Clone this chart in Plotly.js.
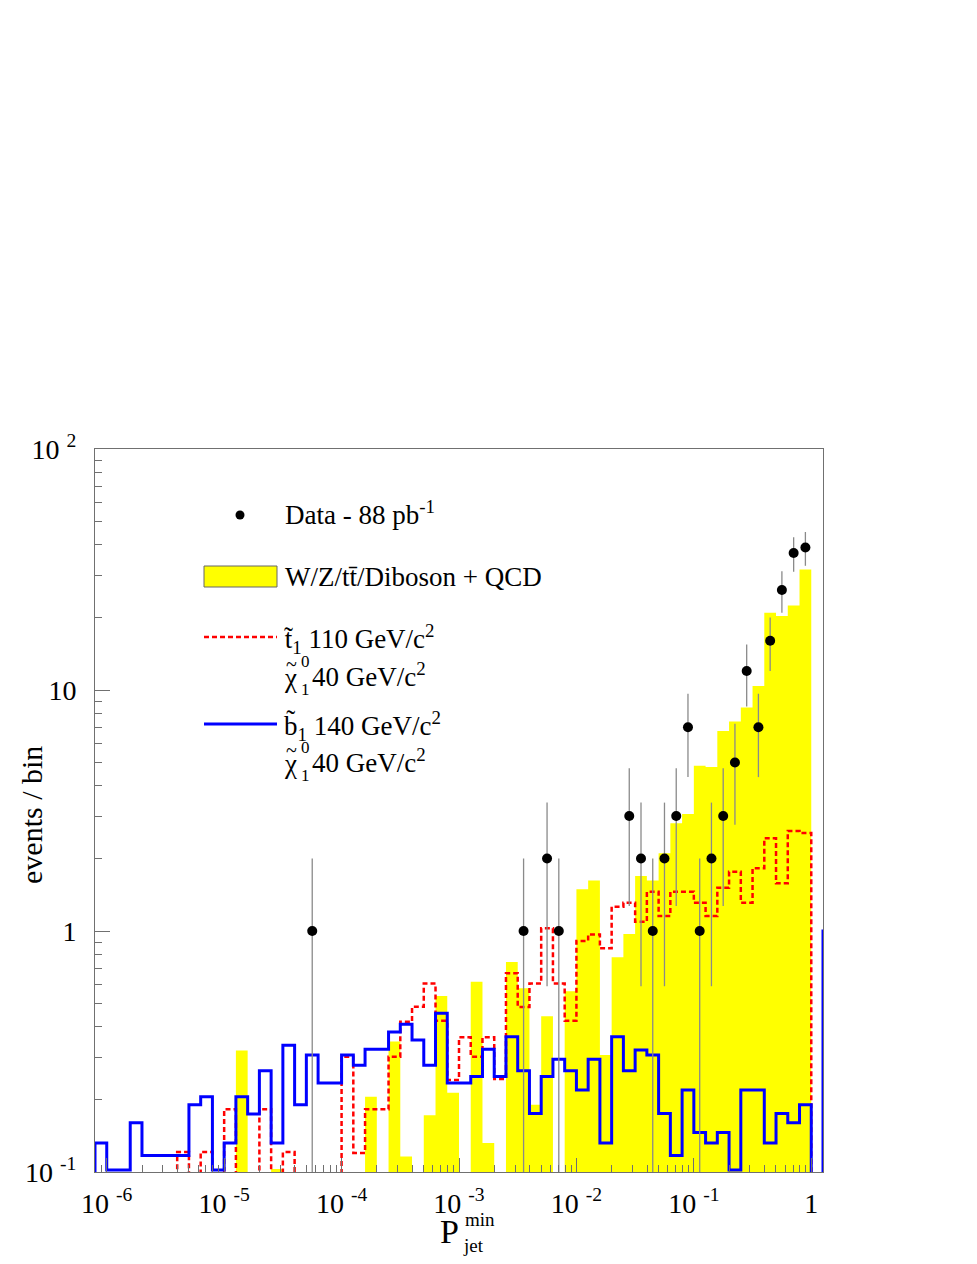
<!DOCTYPE html>
<html>
<head>
<meta charset="utf-8">
<script src="https://cdn.plot.ly/plotly-3.0.1.min.js"></script>
<style>body{margin:0;background:#fff}</style>
</head>
<body>
<div id="graph" style="width:977px;height:1264px"></div>
<script>
// P_jet^min histograms: 61 bins of 0.1 in log10, from 10^-6.1 up to 1
var binLo = -6.1, binW = 0.1;

// W/Z/tt/Diboson + QCD (yellow, filled)
var bkg = [0, 0, 0, 0, 0, 0, 0, 0, 0, 0,
           0, 0, 0.319, 0, 0, 0.103, 0, 0, 0, 0,
           0, 0, 0, 0.205, 0, 0.348, 0.116, 0, 0.172, 0.537,
           0.213, 0, 0.616, 0.132, 0, 0.743, 0.579, 0.190, 0.443, 0,
           0.563, 1.49, 1.62, 0.306, 0.778, 0.972, 1.69, 1.62, 2.10, 2.80,
           3.06, 4.85, 4.79, 6.76, 7.40, 8.47, 10.4, 20.9, 20.3, 22.4,
           31.6];

// stop 110 / neutralino 40 (red dashed)
var stop1 = [0, 0, 0, 0, 0, 0, 0, 0.121, 0, 0.121,
             0, 0.182, 0, 0, 0.182, 0, 0.121, 0, 0, 0,
             0, 0.301, 0.120, 0.182, 0.182, 0.301, 0.420, 0.485, 0.606, 0.424,
             0.241, 0.362, 0.301, 0.362, 0.243, 0.668, 0.484, 0.606, 1.026, 0.606,
             0.424, 0.909, 0.968, 0.848, 1.261, 1.31, 1.093, 1.456, 1.154, 1.456,
             1.456, 1.31, 1.154, 1.513, 1.763, 1.31, 1.82, 2.425, 1.578, 2.60,
             2.55];

// sbottom 140 / neutralino 40 (blue), last two entries are overflow bins
var sbottom1 = [0.132, 0.102, 0.102, 0.160, 0.117, 0.117, 0.117, 0.117, 0.190, 0.205,
                0.102, 0.132, 0.205, 0.174, 0.263, 0.132, 0.336, 0.190, 0.306, 0.234,
                0.234, 0.306, 0.277, 0.323, 0.323, 0.381, 0.410, 0.353, 0.277, 0.456,
                0.234, 0.234, 0.249, 0.323, 0.249, 0.364, 0.263, 0.175, 0.249, 0.294,
                0.263, 0.219, 0.294, 0.132, 0.364, 0.263, 0.321, 0.306, 0.175, 0.117,
                0.219, 0.146, 0.132, 0.146, 0.102, 0.219, 0.219, 0.132, 0.175, 0.160,
                0.190, 0, 1.0];

// data - 88 pb^-1
var dataBin = [18, 36, 38, 39, 45, 46, 47, 48, 49, 50, 51, 52, 53, 54, 55, 56, 57, 58, 59, 60];
var dataN   = [1, 1, 2, 1, 3, 2, 1, 2, 3, 7, 1, 2, 3, 5, 12, 7, 16, 26, 37, 39];
var dataErr = [1, 1, 1.41, 1, 1.73, 1.41, 1, 1.41, 1.73, 2.65, 1, 1.41, 1.73, 2.24, 3.46, 2.65, 4, 5.10, 6.08, 6.24];

var xTickVals = [1e-6, 1e-5, 1e-4, 1e-3, 1e-2, 1e-1, 1];
var xTickText = ['10 <sup>-6</sup>', '10 <sup>-5</sup>', '10 <sup>-4</sup>', '10 <sup>-3</sup>',
                 '10 <sup>-2</sup>', '10 <sup>-1</sup>', '1'];
var yTickVals = [0.1, 1, 10, 100];
var yTickText = ['10 <sup>-1</sup>', '1', '10', '10 <sup>2</sup>'];

var FLOOR = 1e-4; // empty bins drop below the axis
var FONT = 'Liberation Serif, Times New Roman, DejaVu Serif, serif';

function edge(k) { return Math.pow(10, binLo + k * binW); }

function steps(vals) {
  var xs = [edge(0)], ys = [FLOOR];
  for (var k = 0; k < vals.length; k++) {
    var v = vals[k] > 0 ? vals[k] : FLOOR;
    xs.push(edge(k), edge(k + 1));
    ys.push(v, v);
  }
  xs.push(edge(vals.length)); ys.push(FLOOR);
  return {x: xs, y: ys};
}

function minorTicks(d0, d1) {
  var t = [];
  for (var d = d0; d < d1; d++)
    for (var m = 2; m <= 9; m++) t.push(m * Math.pow(10, d));
  return t;
}

var sB = steps(bkg), sS = steps(stop1), sSb = steps(sbottom1);

var traces = [
  {x: sB.x, y: sB.y, type: 'scatter', mode: 'lines', fill: 'toself',
   fillcolor: '#ffff00', line: {width: 0, color: '#ffff00'}, hoverinfo: 'skip'},
  {x: sS.x, y: sS.y, type: 'scatter', mode: 'lines',
   line: {color: '#ff0000', width: 2.5, dash: '5px,3px'}},
  {x: sSb.x, y: sSb.y, type: 'scatter', mode: 'lines',
   line: {color: '#0000ff', width: 3}},
  {x: dataBin.map(function (b) { return Math.pow(10, binLo + (b + 0.5) * binW); }),
   y: dataN, type: 'scatter', mode: 'markers',
   marker: {color: '#000', size: 10},
   error_y: {type: 'data', array: dataErr, visible: true, color: '#8a8a8a', thickness: 1.3, width: 0}}
];

// pixel -> paper helpers for the hand drawn legend
function xp(px) { return (px - 95) / 728; }
function yp(py) { return (1172 - py) / 723; }

function ann(text, px, py, size, extra) {
  var a = {text: text, x: xp(px), y: yp(py), xref: 'paper', yref: 'paper',
           xanchor: 'left', yanchor: 'middle', showarrow: false, borderpad: 0,
           font: {family: FONT, size: size, color: '#000'}};
  for (var k in extra) a[k] = extra[k];
  return a;
}

var annotations = [
  ann('Data - 88 pb<sup>-1</sup>', 284, 513, 27),
  ann('W/Z/tt\u0304/Diboson + QCD', 284, 577, 27),
  ann('t\u0303<sub>1</sub> 110 GeV/c<sup>2</sup>', 283, 639, 27),
  ann('\u03c7', 283, 678, 27),
  ann('~', 291, 664, 20, {xanchor: 'center'}),
  ann('0', 300, 661, 17),
  ann('1', 300, 689, 17),
  ann('40 GeV/c<sup>2</sup>', 311, 675, 27),
  ann('b\u0303<sub>1</sub> 140 GeV/c<sup>2</sup>', 283, 726, 27),
  ann('\u03c7', 283, 764, 27),
  ann('~', 291, 750, 20, {xanchor: 'center'}),
  ann('0', 300, 747, 17),
  ann('1', 300, 775, 17),
  ann('40 GeV/c<sup>2</sup>', 311, 761, 27),
  // axis titles
  ann('events / bin', 31, 815, 30, {xanchor: 'center', textangle: -90}),
  ann('P', 439, 1231, 34),
  ann('min', 464, 1219, 19),
  ann('jet', 462, 1245, 19)
];

var shapes = [
  {type: 'circle', xref: 'paper', yref: 'paper', x0: xp(235.5), x1: xp(244.5), y0: yp(510.5), y1: yp(519.5),
   fillcolor: '#000', line: {width: 0}},
  {type: 'rect', xref: 'paper', yref: 'paper', x0: xp(204), x1: xp(277), y0: yp(566), y1: yp(587),
   fillcolor: '#ffff00', line: {color: '#666', width: 1}},
  {type: 'line', xref: 'paper', yref: 'paper', x0: xp(204), x1: xp(277), y0: yp(637), y1: yp(637),
   line: {color: '#ff0000', width: 2.5, dash: '5px,3px'}},
  {type: 'line', xref: 'paper', yref: 'paper', x0: xp(204), x1: xp(277), y0: yp(724), y1: yp(724),
   line: {color: '#0000ff', width: 3}}
];

var layout = {
  width: 977, height: 1264,
  margin: {l: 95, r: 154, t: 449, b: 92},
  paper_bgcolor: '#fff', plot_bgcolor: '#fff',
  showlegend: false,
  font: {family: FONT, size: 28, color: '#000'},
  xaxis: {
    type: 'log', range: [-6.1, 0.1], tickmode: 'array', tickvals: xTickVals, ticktext: xTickText,
    ticks: 'inside', ticklen: 14, tickcolor: '#707070', tickwidth: 1,
    minor: {tickmode: 'array', tickvals: minorTicks(-7, 1), ticks: 'inside', ticklen: 7, tickcolor: '#707070'},
    showline: true, linecolor: '#707070', linewidth: 1, mirror: true,
    showgrid: false, zeroline: false, ticklabelstandoff: 6,
    tickfont: {family: FONT, size: 28, color: '#000'}
  },
  yaxis: {
    type: 'log', range: [-1, 2], tickmode: 'array', tickvals: yTickVals, ticktext: yTickText,
    ticks: 'inside', ticklen: 15, tickcolor: '#707070', tickwidth: 1,
    minor: {tickmode: 'array', tickvals: minorTicks(-1, 2), ticks: 'inside', ticklen: 7, tickcolor: '#707070'},
    showline: true, linecolor: '#707070', linewidth: 1, mirror: true,
    showgrid: false, zeroline: false, ticklabelstandoff: 12,
    tickfont: {family: FONT, size: 28, color: '#000'}
  },
  annotations: annotations,
  shapes: shapes
};

Plotly.newPlot('graph', traces, layout, {staticPlot: true});
</script>
</body>
</html>
